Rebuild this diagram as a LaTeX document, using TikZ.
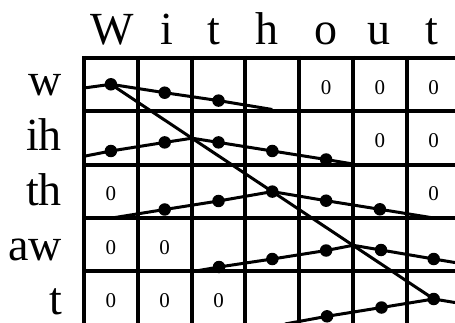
\documentclass[tikz,border=0pt]{standalone}
\usepackage{fontspec}
\setmainfont{Liberation Serif}
\begin{document}
\begin{tikzpicture}[x=1pt,y=-1pt,
 gridline/.style={line width=4pt},
 track/.style={line width=3pt, line join=round},
 dot/.style={circle, fill=black, inner sep=0pt, minimum size=12.5pt},
 hdr/.style={font=\fontsize{46}{46}\selectfont, inner sep=0pt, anchor=base},
 rlab/.style={font=\fontsize{46}{46}\selectfont, inner sep=0pt, anchor=base east},
 zero/.style={font=\fontsize{21}{21}\selectfont, inner sep=0pt}]
\useasboundingbox (0,0) rectangle (455,323);
\clip (0,0) rectangle (455,323);
% grid
\foreach \i in {0,...,7} \draw[gridline] ({84+53.8*\i},56) -- ({84+53.8*\i},335);
\foreach \j in {0,...,5} \draw[gridline] (82,{58+53.3*\j}) -- (470,{58+53.3*\j});
% header
\node[hdr] (hW) at (112,45) {W};
\node[hdr] (hi) at (167,45) {i};
\node[hdr] (ht) at (214,45) {t};
\node[hdr] (hh) at (267,45) {h};
\node[hdr] (ho) at (326,45) {o};
\node[hdr] (hu) at (379,45) {u};
\node[hdr] (ht2) at (432,45) {t};
% row labels
\node[rlab] (lw) at (62,96) {w};
\node[rlab] (lih) at (62,151) {ih};
\node[rlab] (lth) at (62,206) {th};
\node[rlab] (law) at (62,260) {aw};
\node[rlab] (lt) at (62,314) {t};
% zeros
\node[zero] (z04) at (326.1,87.5) {0};
\node[zero] (z05) at (379.9,87.5) {0};
\node[zero] (z06) at (433.7,87.5) {0};
\node[zero] (z15) at (379.9,140.8) {0};
\node[zero] (z16) at (433.7,140.8) {0};
\node[zero] (z20) at (110.9,194.1) {0};
\node[zero] (z26) at (433.7,194.1) {0};
\node[zero] (z30) at (110.9,247.4) {0};
\node[zero] (z31) at (164.7,247.4) {0};
\node[zero] (z40) at (110.9,300.7) {0};
\node[zero] (z41) at (164.7,300.7) {0};
\node[zero] (z42) at (218.5,300.7) {0};
% coordinates
\coordinate (w0) at (84,88);
\coordinate (w1) at (110.9,84.3);
\coordinate (w2) at (164.7,92.7);
\coordinate (w3) at (218.5,100.6);
\coordinate (w4) at (272.3,109.5);
\coordinate (i0) at (84,156.3);
\coordinate (i1) at (110.9,151);
\coordinate (i2) at (164.7,142.4);
\coordinate (i3) at (192,138.2);
\coordinate (i4) at (218.5,142.4);
\coordinate (i5) at (272.3,151);
\coordinate (i6) at (326.1,159.5);
\coordinate (i7) at (353,164);
\coordinate (t0) at (112,218);
\coordinate (t1) at (164.7,209.5);
\coordinate (t2) at (218.5,201);
\coordinate (t3) at (272.3,191.6);
\coordinate (t4) at (326.1,200.7);
\coordinate (t5) at (379.9,209.3);
\coordinate (t6) at (433.7,218);
\coordinate (a0) at (193,271.5);
\coordinate (a1) at (219,267);
\coordinate (a2) at (272.3,259);
\coordinate (a3) at (326.1,250.5);
\coordinate (a4) at (353,245.3);
\coordinate (a5) at (381,250);
\coordinate (a6) at (433.7,259);
\coordinate (a7) at (470,265);
\coordinate (b0) at (285,324);
\coordinate (b1) at (327,316.3);
\coordinate (b2) at (381.5,307.5);
\coordinate (b3) at (433.7,299);
\coordinate (b4) at (470,305);
% tracks
\draw[track] (w0) -- (w1) -- (w2) -- (w3) -- (w4);
\draw[track] (i0) -- (i1) -- (i2) -- (i3) -- (i4) -- (i5) -- (i6) -- (i7);
\draw[track] (t0) -- (t1) -- (t2) -- (t3) -- (t4) -- (t5) -- (t6);
\draw[track] (a0) -- (a1) -- (a2) -- (a3) -- (a4) -- (a5) -- (a6) -- (a7);
\draw[track] (b0) -- (b1) -- (b2) -- (b3) -- (b4);
\draw[track] (w1) -- (b3);
% dots
\foreach \p in {w1,w2,w3,i1,i2,i4,i5,i6,t1,t2,t3,t4,t5,a1,a2,a3,a5,a6,b1,b2,b3}
  \node[dot] (d\p) at (\p) {};
\end{tikzpicture}
\end{document}
